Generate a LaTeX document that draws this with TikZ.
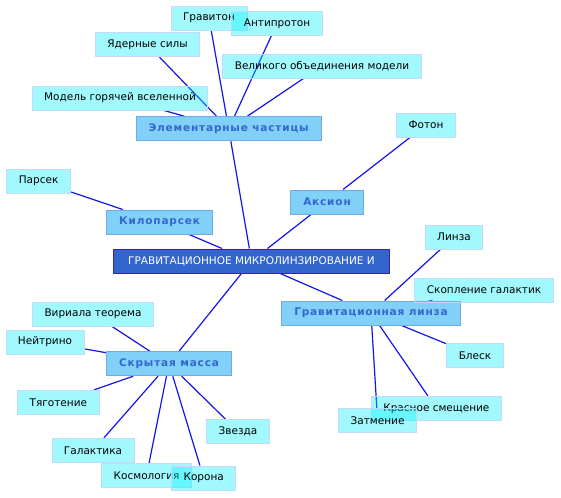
\documentclass[tikz,border=0pt]{standalone}
\usepackage{fontspec}
\setmainfont{DejaVu Sans}
\newfontfamily\midfont[LetterSpace=8]{DejaVu Sans Bold}
\usetikzlibrary{backgrounds}
\definecolor{leaffill}{RGB}{0,240,250}
\definecolor{leafline}{RGB}{196,218,250}
\definecolor{midfill}{RGB}{128,208,248}
\definecolor{midline}{RGB}{112,168,232}
\definecolor{midtext}{RGB}{52,102,208}
\definecolor{rootfill}{RGB}{51,102,204}
\definecolor{rootline}{RGB}{64,32,160}
\definecolor{linkc}{RGB}{20,20,240}
\tikzset{
  leaf/.style={draw=leafline,line width=0.9pt,fill=leaffill,fill opacity=0.37,text opacity=1,
    inner xsep=12pt,minimum height=24pt,font=\fontsize{10.5}{12}\selectfont},
  mid/.style={draw=midline,line width=1pt,fill=midfill,text=midtext,
    inner xsep=12.5pt,minimum height=24pt,font=\fontsize{10.5}{12}\midfont},
  root/.style={draw=rootline,line width=1pt,fill=rootfill,text=white,
    inner xsep=14.5pt,minimum height=24pt,font=\fontsize{10.5}{12}\selectfont},
  ln/.style={draw=linkc,line width=1.2pt}
}

\begin{document}
\begin{tikzpicture}[x=1pt,y=-1pt]
\useasboundingbox (0,0) rectangle (561,497);
\node[root] (gm) at (251.5,261) {ГРАВИТАЦИОННОЕ МИКРОЛИНЗИРОВАНИЕ И};
% upper branch
\node[mid] (ep) at (228.7,128.8) {Элементарные частицы};
\node[leaf] (grv) at (209,18) {Гравитон};
\node[leaf] (apr) at (277,23.5) {Антипротон};
\node[leaf] (yad) at (147.5,44.7) {Ядерные силы};
\node[leaf] (vom) at (322,66) {Великого объединения модели};
\node[leaf] (mgv) at (120,98) {Модель горячей вселенной};
\node[mid] (aks) at (327,202) {Аксион};
\node[leaf] (fot) at (426,125) {Фотон};
\node[mid] (kpc) at (159.6,222) {Килопарсек};
\node[leaf] (pc) at (38.6,181) {Парсек};
% lens branch
\node[mid] (gl) at (371,313) {Гравитационная линза};
\node[leaf] (lnz) at (454,237) {Линза};
\node[leaf] (skg) at (484,290) {Скопление галактик};
\node[leaf] (blk) at (475,355.5) {Блеск};
\node[leaf] (krs) at (436.4,408.3) {Красное смещение};
\node[leaf] (ztm) at (377.6,420.8) {Затмение};
% dark matter branch
\node[mid] (sm) at (169,363.7) {Скрытая масса};
\node[leaf] (vir) at (93,314) {Вириала теорема};
\node[leaf] (nei) at (45,342) {Нейтрино};
\node[leaf] (tyg) at (58.4,402.3) {Тяготение};
\node[leaf] (zvz) at (238,431.5) {Звезда};
\node[leaf] (gal) at (93,450.3) {Галактика};
\node[leaf] (ksm) at (146.6,475.3) {Космология};
\node[leaf] (kor) at (203.7,478) {Корона};
\begin{pgfonlayer}{background}
\foreach \a/\b in {gm/ep,gm/aks,gm/kpc,gm/gl,gm/sm,
  ep/grv,ep/apr,ep/yad,ep/vom,ep/mgv,aks/fot,kpc/pc,
  gl/lnz,gl/skg,gl/blk,gl/krs,gl/ztm,
  sm/vir,sm/nei,sm/tyg,sm/zvz,sm/gal,sm/ksm,sm/kor}
  \draw[ln] (\a) -- (\b);
\end{pgfonlayer}
\end{tikzpicture}
\end{document}
